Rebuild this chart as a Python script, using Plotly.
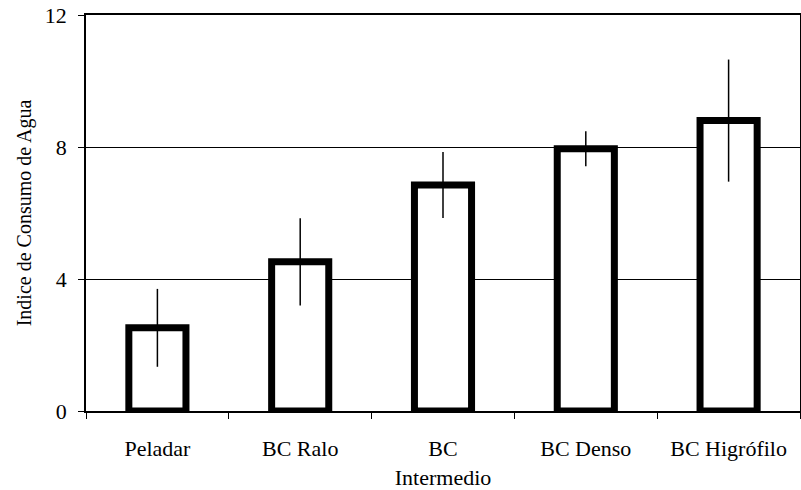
import plotly.graph_objects as go

categories = ["Peladar", "BC Ralo", "BC<br>Intermedio", "BC Denso", "BC Higrófilo"]
values = [2.52, 4.52, 6.85, 7.95, 8.8]
errors = [1.18, 1.32, 1.0, 0.53, 1.85]
y_ticks = [0, 4, 8, 12]

FONT = "Liberation Serif"

fig = go.Figure()
fig.add_trace(go.Bar(
    x=categories, y=values, width=0.4,
    marker=dict(color="white", line=dict(color="black", width=7)),
    error_y=dict(type="data", array=errors, visible=True, color="black",
                 thickness=1.5, width=0),
))

fig.update_layout(
    width=801, height=490,
    margin=dict(l=86, r=1, t=15, b=79),
    plot_bgcolor="white", paper_bgcolor="white",
    showlegend=False,
    font=dict(family=FONT, size=22, color="black"),
    bargap=0.6,
)
fig.update_xaxes(
    automargin=False,
    showline=True, linecolor="black", linewidth=1.5, mirror=True,
    ticks="outside", tickson="boundaries", ticklen=6, tickcolor="black",
    tickfont=dict(family=FONT, size=22), ticklabelstandoff=17,
    showgrid=False,
)
fig.update_yaxes(
    automargin=False,
    range=[0, 12], tickvals=y_ticks, ticks="outside", ticklen=6, tickcolor="black",
    showline=True, linecolor="black", linewidth=1.5, mirror=True,
    showgrid=True, gridcolor="black", gridwidth=1,
    zeroline=False,
    tickfont=dict(family=FONT, size=22), ticklabelstandoff=7,
    title=dict(text="Indice de Consumo de Agua", font=dict(family=FONT, size=20), standoff=8),
)

fig.write_html("out.html")
